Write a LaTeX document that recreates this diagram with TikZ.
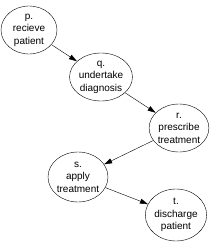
\documentclass[tikz,border=0pt]{standalone}
\usepackage{fontspec}
\setmainfont{Liberation Sans}
\usetikzlibrary{arrows.meta,shapes.geometric}

\begin{document}
\begin{tikzpicture}[x=1pt, y=-1pt,
  font=\fontsize{10}{12.5}\selectfont,
  task/.style={ellipse, draw, thin, inner sep=0pt, minimum width=56pt,
    minimum height=48pt, align=center},
  flow/.style={-{Triangle[length=8pt, width=5pt]}, thin}]
  \useasboundingbox (0,0) rectangle (220,248);
  \node[task] (p) at (29,30) {p.\\recieve\\patient};
  \node[task, minimum width=59pt] (q) at (101,77) {q.\\undertake\\diagnosis};
  \node[task] (r) at (179,128) {r.\\prescribe\\treatment};
  \node[task, minimum width=60pt, minimum height=50pt] (s) at (78,177) {s.\\apply\\treatment};
  \node[task, minimum height=52pt] (t) at (176,215) {t.\\discharge\\patient};
  \draw[flow] (p) -- (q);
  \draw[flow] (q) -- (r);
  \draw[flow] (r) -- (s);
  \draw[flow] (s) -- (t);
\end{tikzpicture}
\end{document}
